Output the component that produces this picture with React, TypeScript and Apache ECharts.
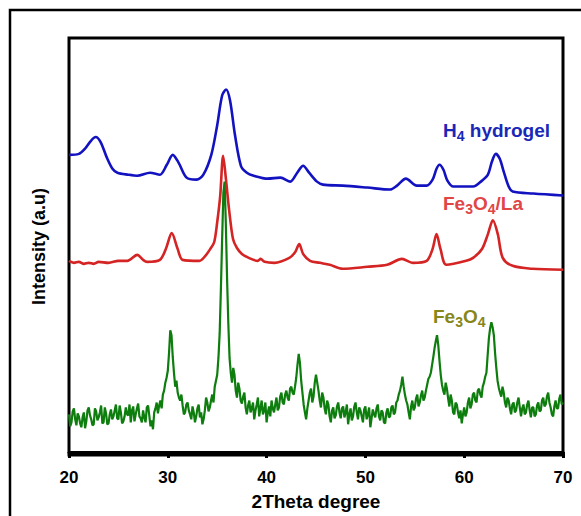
import React, { useEffect, useRef } from "react";
import * as echarts from "echarts";

// X axis
const xMin = 20;
const xMax = 70;
const xInterval = 10;

// H4 hydrogel (blue)
const hydrogelTheta = [
  20, 21, 21.6, 22.2, 22.7, 23.2, 23.8, 24.4, 24.9, 26,
  26.9, 28.2, 29.2, 29.9, 30.5, 31.1, 31.9, 32.9, 33.6, 34.4,
  35.0, 35.5, 35.9, 36.3, 36.8, 37.4, 38.0, 38.7, 40.1, 41.4,
  42.4, 43.1, 43.7, 44.3, 45.1, 45.7, 47.7, 50.2, 52.5, 53.2,
  54.1, 55.2, 56.2, 56.8, 57.2, 57.5, 57.9, 58.3, 58.9, 60.9,
  61.8, 62.4, 62.8, 63.2, 63.6, 64.0, 64.5, 64.9, 67.0, 70.0,
];
const hydrogelIntensity = [
  300, 301, 306, 314, 318, 313, 298, 286, 282, 280,
  279, 282, 280, 290, 300, 292, 277, 275, 280, 300,
  330, 360, 366, 355, 320, 289, 282, 279, 276, 277,
  273, 282, 289, 282, 273, 270, 269, 267, 265, 269,
  276, 269, 269, 275, 286, 290, 285, 274, 268, 268,
  274, 280, 293, 301, 296, 283, 268, 263, 261, 259,
];

// Fe3O4/La (red)
const laTheta = [
  20, 20.5, 21, 21.5, 22, 22.5, 23, 24, 25, 25.9,
  26.9, 27.5, 27.9, 29.2, 29.8, 30.4, 31.0, 31.5, 33.2, 33.8,
  34.3, 34.7, 35.0, 35.3, 35.6, 35.9, 36.2, 36.6, 37.0, 37.5,
  38.2, 39.1, 39.4, 39.8, 40.8, 42.3, 42.9, 43.3, 43.7, 44.4,
  45.4, 46.4, 47.7, 50.2, 52.2, 53.7, 54.8, 56.2, 56.8, 57.2,
  57.6, 58.2, 60.2, 60.9, 61.8, 62.4, 62.9, 63.4, 63.9, 64.9,
  66.9, 70,
];
const laIntensity = [
  193, 191, 192, 190, 191, 190, 192, 191, 193, 193,
  199, 194, 192, 194, 205, 221, 205, 194, 193, 198,
  205, 212, 232, 258, 299, 274, 245, 215, 206, 200,
  196, 193, 195, 192, 191, 196, 202, 210, 200, 193,
  191, 189, 185, 187, 189, 195, 191, 193, 205, 220,
  205, 189, 193, 196, 205, 220, 234, 220, 196, 188,
  185, 184,
];

// Fe3O4 (green), sampled every 0.125 degree from 20 to 70
const feStart = 20;
const feStep = 0.125;
const feIntensity = [
  38, 26, 30, 41, 44, 33, 27, 39, 36, 29, 25, 35, 40, 24, 31, 42, 45, 37, 33, 27,
  28, 44, 41, 32, 35, 40, 47, 29, 30, 45, 39, 28, 29, 38, 43, 33, 36, 42, 48, 34,
  33, 47, 40, 29, 31, 36, 45, 38, 37, 48, 30, 42, 46, 31, 38, 44, 49, 36, 34, 30,
  42, 35, 30, 45, 47, 37, 26, 32, 23, 40, 44, 50, 39, 47, 52, 44, 58, 62, 70, 75,
  82, 100, 123, 118, 96, 80, 66, 72, 60, 55, 52, 58, 47, 38, 40, 48, 50, 42, 38, 33,
  46, 40, 30, 36, 44, 48, 35, 40, 28, 33, 42, 55, 50, 41, 45, 52, 58, 50, 66, 72,
  78, 95, 120, 165, 215, 262, 273, 230, 175, 130, 95, 80, 70, 85, 78, 62, 55, 70, 64, 52,
  49, 56, 60, 45, 38, 47, 52, 40, 44, 50, 33, 42, 48, 55, 36, 44, 52, 38, 42, 50,
  30, 40, 46, 36, 52, 44, 40, 48, 55, 42, 45, 56, 60, 50, 48, 58, 62, 55, 52, 64,
  66, 60, 58, 66, 75, 88, 99, 90, 72, 60, 48, 40, 33, 44, 52, 60, 64, 50, 56, 70,
  78, 70, 62, 52, 45, 60, 55, 44, 38, 52, 48, 36, 30, 42, 45, 34, 37, 46, 50, 40,
  34, 44, 46, 35, 40, 48, 28, 38, 44, 32, 36, 46, 50, 40, 33, 45, 42, 36, 30, 43,
  46, 33, 38, 45, 25, 34, 43, 38, 35, 44, 48, 36, 32, 42, 40, 30, 29, 40, 44, 35,
  36, 45, 47, 38, 40, 50, 52, 58, 62, 68, 76, 66, 58, 52, 48, 40, 33, 46, 52, 42,
  45, 54, 58, 46, 50, 57, 62, 52, 55, 62, 68, 74, 76, 80, 88, 96, 105, 112, 118, 108,
  92, 78, 68, 62, 58, 70, 64, 54, 46, 58, 52, 40, 38, 50, 48, 40, 34, 42, 29, 38,
  45, 36, 40, 50, 55, 44, 48, 58, 60, 52, 50, 62, 64, 58, 55, 66, 70, 76, 80, 98,
  115, 125, 131, 126, 118, 100, 85, 72, 65, 60, 56, 66, 60, 50, 45, 55, 52, 44, 38, 48,
  50, 40, 42, 50, 55, 45, 36, 44, 48, 38, 40, 48, 52, 42, 35, 45, 45, 36, 38, 47,
  50, 41, 42, 52, 55, 46, 48, 56, 60, 50, 45, 38, 36, 46, 52, 44, 44, 54, 58, 48,
  50,
];

const FONT = "'Liberation Sans', Arial, Helvetica, sans-serif";
const MAIN_SIZE = 19;
const SUB_SIZE = 14;

let measureCtx: CanvasRenderingContext2D | null = null;
function measure(text: string, font: string): number {
  if (!measureCtx) measureCtx = document.createElement("canvas").getContext("2d");
  if (!measureCtx) return text.length * 10;
  measureCtx.font = font;
  return measureCtx.measureText(text).width;
}

// baseY is the baseline of the main text; elements are top-aligned
function subLabel(parts: { t: string; sub?: boolean }[], x0: number, baseY: number, color: string) {
  let x = x0;
  return parts.map((p) => {
    const font = `bold ${p.sub ? SUB_SIZE : MAIN_SIZE}px ${FONT}`;
    const el = {
      type: "text",
      x,
      y: p.sub ? baseY - 8 : baseY - 16,
      style: {
        text: p.t,
        fill: color,
        font,
        verticalAlign: "top",
        align: "left",
      },
      z: 10,
    };
    x += measure(p.t, font);
    return el;
  });
}

export default function App() {
  const ref = useRef<HTMLDivElement>(null);
  useEffect(() => {
    if (!ref.current) return;
    const chart = echarts.init(ref.current, undefined, { renderer: "svg" });
    const blue = hydrogelTheta.map((t, i) => [t, hydrogelIntensity[i]]);
    const red = laTheta.map((t, i) => [t, laIntensity[i]]);
    const green = feIntensity.map((v, i) => [feStart + feStep * i, v]);
    chart.setOption({
      animation: false,
      backgroundColor: "#fff",
      grid: {
        left: 69,
        right: 18,
        top: 38,
        bottom: 57,
        show: true,
        borderColor: "#000",
        borderWidth: 3,
        backgroundColor: "transparent",
      },
      xAxis: {
        type: "value",
        min: xMin,
        max: xMax,
        interval: xInterval,
        name: "2Theta degree",
        nameLocation: "middle",
        nameGap: 37,
        nameTextStyle: { fontFamily: FONT, fontWeight: "bold", fontSize: 19, color: "#000" },
        axisLine: { show: true, lineStyle: { color: "#000", width: 3 } },
        axisTick: { show: true, inside: false, length: 6, lineStyle: { color: "#000", width: 3 } },
        minorTick: { show: true, splitNumber: 2, length: 3, lineStyle: { color: "#000", width: 3 } },
        axisLabel: { fontFamily: FONT, fontWeight: "bold", fontSize: 17, color: "#000", margin: 14 },
        splitLine: { show: false },
      },
      yAxis: {
        type: "value",
        min: -3,
        max: 418,
        name: "Intensity (a.u)",
        nameLocation: "middle",
        nameGap: 21,
        nameTextStyle: { fontFamily: FONT, fontWeight: "bold", fontSize: 18, color: "#000" },
        axisLine: { show: false },
        axisTick: { show: false },
        axisLabel: { show: false },
        splitLine: { show: false },
      },
      series: [
        {
          name: "H4 hydrogel",
          type: "line",
          data: blue,
          showSymbol: false,
          smooth: 0.3,
          lineStyle: { color: "#1212c0", width: 2.6 },
          z: 3,
        },
        {
          name: "Fe3O4/La",
          type: "line",
          data: red,
          showSymbol: false,
          smooth: 0.3,
          lineStyle: { color: "#d42424", width: 2.6 },
          z: 2,
        },
        {
          name: "Fe3O4",
          type: "line",
          data: green,
          showSymbol: false,
          lineStyle: { color: "#0d7d0d", width: 2.2 },
          z: 4,
        },
      ],
      graphic: [
        {
          type: "rect",
          shape: { x: 10, y: 10, width: 700, height: 700 },
          style: { fill: "none", stroke: "#000", lineWidth: 2.5 },
          z: 0,
          silent: true,
        },
        ...subLabel([{ t: "H" }, { t: "4", sub: true }, { t: " hydrogel" }], 443, 137, "#1a28b8"),
        ...subLabel(
          [{ t: "Fe" }, { t: "3", sub: true }, { t: "O" }, { t: "4", sub: true }, { t: "/La" }],
          443,
          210,
          "#e04646"
        ),
        ...subLabel(
          [{ t: "Fe" }, { t: "3", sub: true }, { t: "O" }, { t: "4", sub: true }],
          433,
          323,
          "#86861a"
        ),
      ],
    });
    return () => chart.dispose();
  }, []);
  return (
    <div
      ref={ref}
      style={{ position: "fixed", left: 0, top: 0, width: 581, height: 516 }}
    />
  );
}
